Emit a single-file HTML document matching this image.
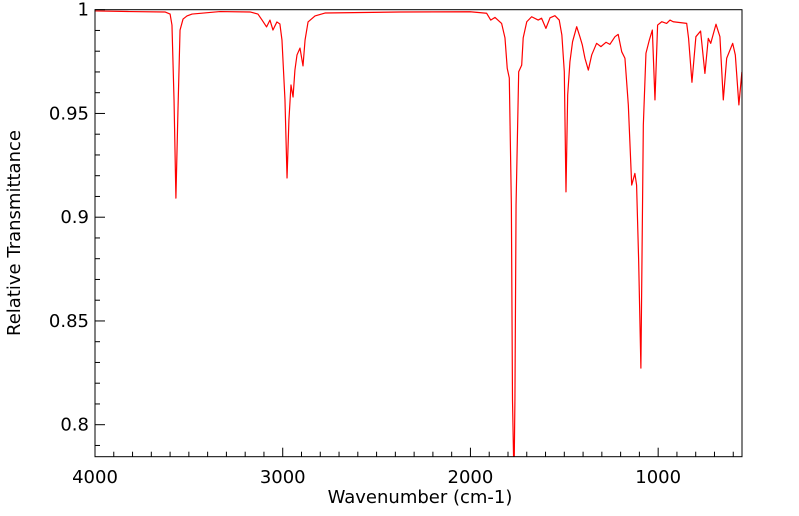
<!DOCTYPE html>
<html><head><meta charset="utf-8"><style>
html,body{margin:0;padding:0;background:#fff;}
svg{display:block;font-family:"DejaVu Sans","Liberation Sans",sans-serif;}
</style></head><body>
<svg id="chart" width="799" height="516" viewBox="0 0 799 516" xmlns="http://www.w3.org/2000/svg">
<defs><clipPath id="pc"><rect x="95" y="9.7" width="647" height="447"/></clipPath></defs>
<rect x="95" y="9.7" width="647" height="447" fill="#fff"/>
<g id="ticks"></g>
<path id="spectrum" clip-path="url(#pc)" fill="none" stroke="#ff0000" stroke-width="1.2" stroke-linejoin="round"/>
<rect x="95" y="9.7" width="647" height="447" fill="none" stroke="#000" stroke-width="1"/>
<text x="420" y="503" font-size="18" text-anchor="middle">Wavenumber (cm-1)</text>
<text transform="translate(20,233) rotate(-90)" font-size="18" text-anchor="middle">Relative Transmittance</text>
</svg>
<script>
const wavenumbers = [4000,3814,3627,3600,3590,3579,3569,3558,3547,3531,3510,3483,3334,3174,3132,3110,3086,3068,3052,3031,3015,3004,2988,2977,2967,2956,2945,2935,2924,2908,2892,2881,2865,2828,2775,2375,2002,1914,1892,1869,1834,1816,1804,1793,1782,1776,1768,1763,1757,1743,1727,1719,1700,1674,1639,1621,1598,1576,1550,1527,1513,1500,1491,1482,1470,1456,1434,1417,1404,1390,1372,1354,1328,1305,1278,1257,1230,1213,1194,1177,1159,1141,1124,1115,1104,1092,1079,1065,1047,1031,1017,1003,981,955,937,920,848,838,820,799,774,751,733,720,692,671,653,635,603,589,570,554];
const transmittance = [0.9994,0.9991,0.9989,0.9979,0.9926,0.9565,0.9092,0.9516,0.9902,0.9955,0.9970,0.9979,0.9991,0.9989,0.9979,0.9950,0.9917,0.9950,0.9902,0.9941,0.9931,0.9854,0.9565,0.9189,0.9468,0.9637,0.9579,0.9709,0.9782,0.9815,0.9729,0.9854,0.9941,0.9970,0.9984,0.9989,0.9990,0.9983,0.9950,0.9963,0.9934,0.9864,0.9717,0.9671,0.9058,0.812,0.773,0.812,0.9058,0.9701,0.9733,0.9864,0.9942,0.9966,0.9950,0.9959,0.9910,0.9961,0.9971,0.9950,0.9878,0.9701,0.9122,0.9589,0.9749,0.9846,0.9918,0.9870,0.9830,0.9766,0.9709,0.9782,0.9838,0.9822,0.9843,0.9833,0.9870,0.9881,0.9797,0.9766,0.9541,0.9155,0.9211,0.9155,0.8793,0.8273,0.9444,0.9790,0.9854,0.9902,0.9565,0.9926,0.9942,0.9934,0.9950,0.9942,0.9934,0.9862,0.9650,0.9870,0.9897,0.9693,0.9862,0.9838,0.9930,0.9870,0.9565,0.9766,0.9838,0.9782,0.9541,0.9700];
const xTickLabels = ["4000","3000","2000","1000"];
const yTickLabels = ["1","0.95","0.9","0.85","0.8"];

const X0=95, X1=742, Y0=9.7, Y1=456.7;
const xMax=4000, xMin=553.4, yMax=1.0, yMin=0.78458;
function sx(w){return X0+(xMax-w)/(xMax-xMin)*(X1-X0);}
function sy(t){return Y0+(yMax-t)/(yMax-yMin)*(Y1-Y0);}

let d="";
for(let i=0;i<wavenumbers.length;i++){d+=(i?"L":"M")+sx(wavenumbers[i]).toFixed(2)+","+sy(transmittance[i]).toFixed(2);}
document.getElementById("spectrum").setAttribute("d",d);

const NS="http://www.w3.org/2000/svg";
const g=document.getElementById("ticks");
function line(x1,y1,x2,y2,name){
  const l=document.createElementNS(NS,"line");
  l.setAttribute("x1",x1);l.setAttribute("y1",y1);l.setAttribute("x2",x2);l.setAttribute("y2",y2);
  l.setAttribute("stroke","#000");l.setAttribute("stroke-width","1");
  
  
  g.appendChild(l);
}
function text(x,y,s,anchor,name){
  const t=document.createElementNS(NS,"text");
  t.setAttribute("x",x);t.setAttribute("y",y);t.setAttribute("font-size","18");t.setAttribute("text-anchor",anchor);
  t.textContent=s;
  
  
  g.appendChild(t);
}
for(let w=4000; w>=xMin; w-=100){
  const x=sx(w), major=(w%1000===0);
  line(x,Y1,x,Y1-(major?9:5),major?"x-major-tick":"x-minor-tick");
}
xTickLabels.forEach(s=>{text(sx(+s),483,s,"middle","x-tick-label");});
for(let k=0;k<=21;k++){
  const v=1-k*0.01; if(v<yMin) break;
  const y=sy(v), major=(k%5===0);
  line(X0,y,X0+(major?10:5),y,major?"y-major-tick":"y-minor-tick");
}
yTickLabels.forEach(s=>{text(89,sy(+s)+6,s,"end","y-tick-label");});
</script>
</body></html>
